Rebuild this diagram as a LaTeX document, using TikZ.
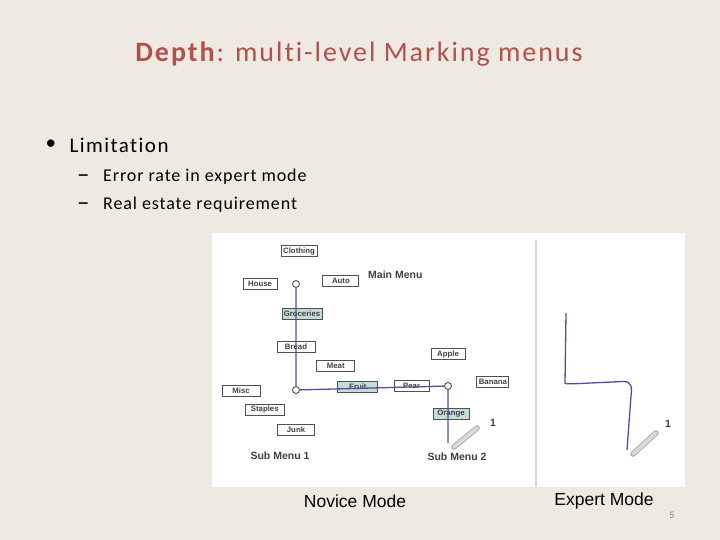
\documentclass[tikz,border=0pt]{standalone}
\usepackage{fontspec}
\setmainfont{Carlito}[Ligatures=NoCommon]
\newfontfamily\uifont{Liberation Sans}
\newfontfamily\slidefont{Carlito}[LetterSpace=7, Ligatures=NoCommon]
\newfontfamily\bodyfont{Carlito}[LetterSpace=5, Ligatures=NoCommon]
\usetikzlibrary{positioning}
\definecolor{cSlide}{HTML}{EEEAE2}
\definecolor{cTitle}{HTML}{B4504C}
\definecolor{cMark}{HTML}{5A4C9C}
\definecolor{cPick}{HTML}{C2DCD9}
\definecolor{cFrame}{HTML}{505050}
\definecolor{cRule}{HTML}{D9D9D9}
\tikzset{
  item/.style    = {rectangle, draw=cFrame, line width=0.9pt, fill=white, minimum width=#1,
                    minimum height=11pt, inner sep=0pt, text=black!75,
                    font=\uifont\bfseries\fontsize{7.8}{8}\selectfont},
  item/.default  = 36pt,
  pick/.style    = {item=#1, fill=cPick},
  pick/.default  = 40pt,
  hub/.style     = {circle, draw=cFrame, line width=0.9pt, fill=white, minimum size=7pt, inner sep=0pt},
  stroke/.style  = {draw=cMark, line width=1.3pt, line join=round},
  menulab/.style = {font=\uifont\bfseries\fontsize{10.5}{11}\selectfont, text=black!75, inner sep=0pt},
  pen/.style     = {line width=5.5pt, draw=black!35, line cap=round},
  pencore/.style = {line width=3.8pt, draw=black!15, line cap=round},
  modelab/.style = {font=\uifont\fontsize{17.5}{20}\selectfont, inner sep=0pt},
  subdash/.style = {anchor=base west, inner sep=0pt, font=\fontsize{25}{26}\selectfont},
  subitem/.style = {anchor=base west, inner sep=0pt, font=\bodyfont\fontsize{18}{20}\selectfont},
}

\begin{document}
\begin{tikzpicture}[x=1pt, y=-1pt]
  \fill[cSlide] (0,0) rectangle (720,540);
  \useasboundingbox (0,0) rectangle (720,540);

  % slide text
  \node[text=cTitle, font=\slidefont\fontsize{28}{32}\selectfont] (title) at (359,54)
    {\textbf{Depth}: multi-level Marking menus};
  \node[anchor=west, font=\fontsize{21}{24}\selectfont] (dot) at (42,145) {\textbullet};
  \node[anchor=west, font=\slidefont\fontsize{21}{24}\selectfont] (limit) at (66,145) {Limitation};
  \node[subdash] (dashA) at (77,183) {\textendash};
  \node[subitem] (err) at (103,182) {Error rate in expert mode};
  \node[subdash] (dashB) at (77,211) {\textendash};
  \node[subitem] (real) at (103,210) {Real estate requirement};

  % screenshot panel
  \fill[white] (212,233) rectangle (685,487);
  \draw[cRule, line width=2pt] (536,240) -- (536,487);

  % novice mode: main menu
  \node[hub] (hubA) at (296,284) {};
  \node[item, above=23pt of hubA, xshift=3pt] (cloth) {Clothing};
  \node[item=34pt, left=14.5pt of hubA] (house) {House};
  \node[item, right=22.5pt of hubA, yshift=3pt] (auto) {Auto};
  \node[pick, below=20pt of hubA, xshift=6pt] (groc) {Groceries};
  \node[menulab, anchor=west] (mainlab) at (368,275) {Main Menu};

  % sub menu 1
  \node[hub] (hubB) at (296,390) {};
  \node[item=38pt, above=33pt of hubB] (bread) {Bread};
  \node[item=38pt, above right=15pt and 17.5pt of hubB] (meat) {Meat};
  \node[item=38pt, left=31.5pt of hubB, yshift=-1pt] (misc) {Misc};
  \node[pick, right=37.5pt of hubB, yshift=3pt] (fruit) {Fruit};
  \node[item=39pt, below left=11pt and 8.5pt of hubB] (stap) {Staples};
  \node[item=37pt, below=30pt of hubB] (junk) {Junk};
  \node[menulab] (sub1) at (280,456) {Sub Menu 1};

  % sub menu 2
  \node[hub] (hubC) at (448,386) {};
  \node[item=35pt, left=14.5pt of hubC] (pear) {Pear};
  \node[item=34pt, above=22pt of hubC] (apple) {Apple};
  \node[item=32pt, right=24.5pt of hubC, yshift=4pt] (banana) {Banana};
  \node[pick=36pt, below=18pt of hubC, xshift=3pt] (orange) {Orange};
  \node[menulab] (sub2) at (457,457) {Sub Menu 2};
  \coordinate (endA) at (448,443);
  \coordinate (penA) at (477,428);
  \node[menulab] (oneA) at (493,423) {1};

  \draw[stroke] (hubA) -- (hubB) -- (hubC) -- (endA);
  \draw[pen] (endA) ++(6pt,-4pt) -- (penA);
  \draw[pencore] (endA) ++(6pt,-4pt) -- (penA);

  % expert mode
  \coordinate (strA) at (566,313);
  \coordinate (strB) at (565,383);
  \coordinate (strD) at (627,450);
  \coordinate (penB) at (656,433);
  \node[menulab] (oneB) at (668,424) {1};
  \draw[stroke] (strA) -- (strB) .. controls (565,384) and (568,384) .. (580,383.5)
    -- (623,381.5) .. controls (632,381) and (632,388) .. (631,396) -- (strD);
  \draw[pen] (strD) ++(6pt,-4pt) -- (penB);
  \draw[pencore] (strD) ++(6pt,-4pt) -- (penB);

  \node[modelab] (novice) at (355,501) {Novice Mode};
  \node[modelab] (expert) at (604,501) {Expert Mode};
  \node[text=black!50, font=\fontsize{10}{12}\selectfont] (page) at (672,515) {5};
\end{tikzpicture}
\end{document}
